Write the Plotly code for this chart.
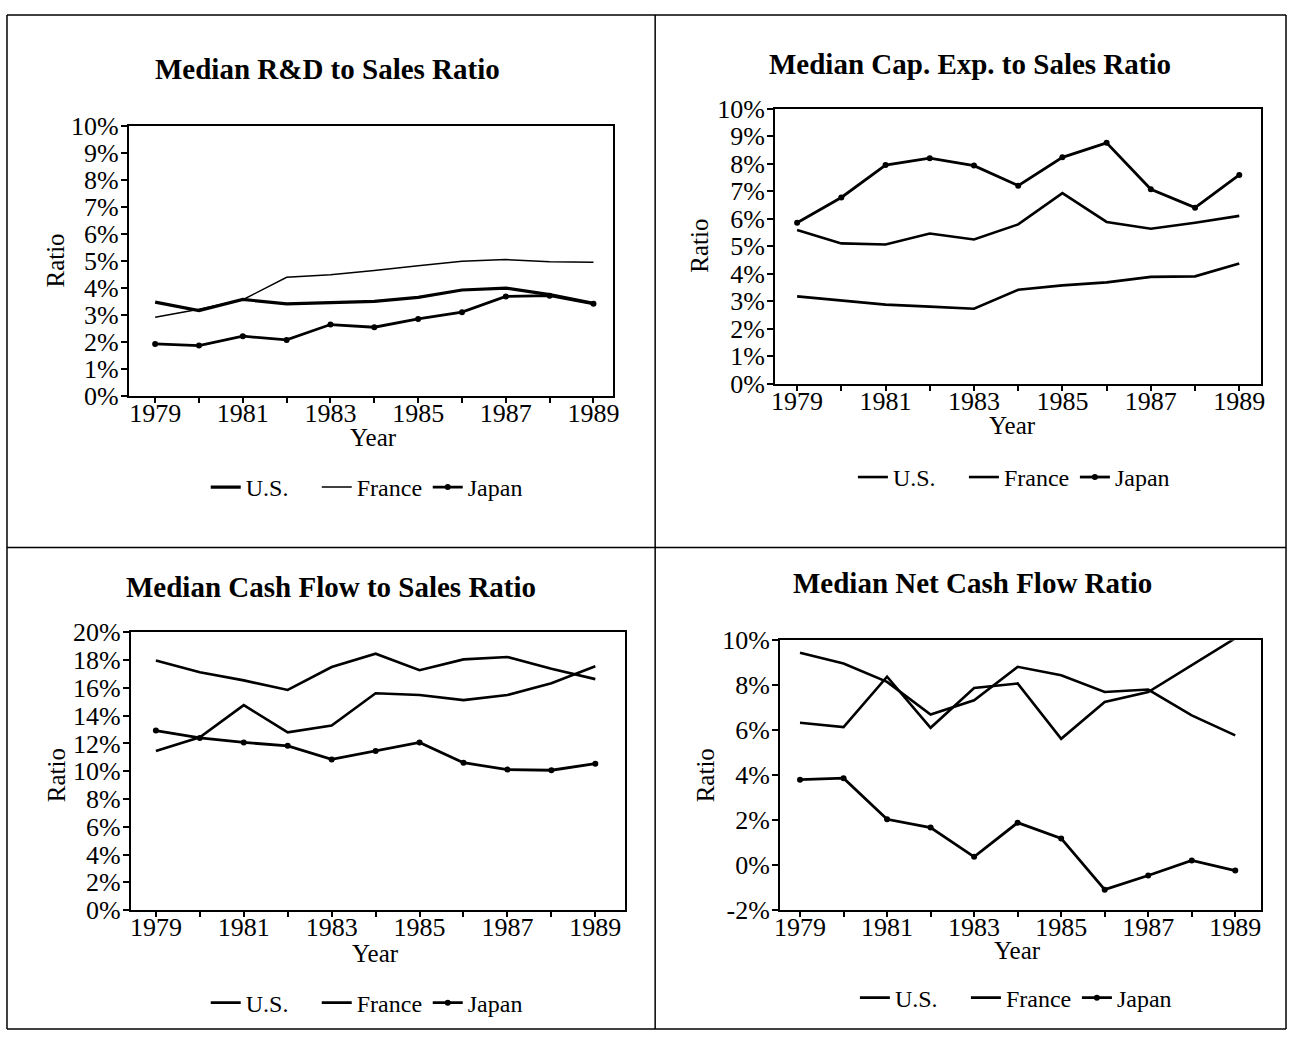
import plotly.graph_objects as go

W, H = 1293, 1045
FONT = "Liberation Serif"

years = list(range(1979, 1990))
year_labels = [str(y) if y % 2 == 1 else "" for y in years]

# Median R&D to sales ratio (%)
rd_us = [3.46, 3.15, 3.56, 3.40, 3.44, 3.49, 3.64, 3.91, 3.98, 3.74, 3.42]
rd_france = [2.90, 3.20, 3.55, 4.38, 4.48, 4.63, 4.81, 4.98, 5.04, 4.96, 4.94]
rd_japan = [1.91, 1.85, 2.20, 2.06, 2.63, 2.53, 2.84, 3.09, 3.67, 3.70, 3.40]

# Median capital expenditure to sales ratio (%)
capex_us = [3.17, 3.02, 2.87, 2.80, 2.72, 3.41, 3.57, 3.68, 3.88, 3.90, 4.37]
capex_france = [5.59, 5.10, 5.06, 5.46, 5.24, 5.79, 6.93, 5.88, 5.63, 5.85, 6.10]
capex_japan = [5.85, 6.77, 7.95, 8.20, 7.93, 7.20, 8.23, 8.76, 7.07, 6.40, 7.59]

# Median cash flow to sales ratio (%)
cash_us = [17.98, 17.12, 16.54, 15.85, 17.50, 18.46, 17.27, 18.05, 18.22, 17.37, 16.63]
cash_france = [11.46, 12.44, 14.76, 12.80, 13.29, 15.61, 15.49, 15.12, 15.49, 16.34, 17.56]
cash_japan = [12.93, 12.40, 12.07, 11.83, 10.85, 11.46, 12.07, 10.61, 10.12, 10.07, 10.54]

# Median net cash flow ratio (%)
net_us = [9.45, 8.97, 8.15, 6.70, 7.33, 8.82, 8.45, 7.70, 7.81, 6.66, 5.77]
net_france = [6.33, 6.14, 8.38, 6.11, 7.88, 8.08, 5.62, 7.26, 7.70, 8.90, 10.09]
net_japan = [3.80, 3.87, 2.04, 1.67, 0.37, 1.89, 1.19, -1.09, -0.46, 0.21, -0.24]

titles = [
    "Median R&D to Sales Ratio",
    "Median Cap. Exp. to Sales Ratio",
    "Median Cash Flow to Sales Ratio",
    "Median Net Cash Flow Ratio",
]
series = [
    (rd_us, rd_france, rd_japan),
    (capex_us, capex_france, capex_japan),
    (cash_us, cash_france, cash_japan),
    (net_us, net_france, net_japan),
]
y_ticks = [
    list(range(0, 11)),
    list(range(0, 11)),
    list(range(0, 21, 2)),
    list(range(-2, 11, 2)),
]

# target positions (pixels of the reference picture): plot box
# (x0, x1, ytop, ybottom), x range, title / axis-title centres, legend start
panels = [
    dict(box=(128, 613, 125, 395), xr=[1978.4, 1989.45], title=(327, 68),
         year=(373, 437), ratio=(55, 260), legend=(205, 487)),
    dict(box=(775, 1262, 108, 383), xr=[1978.5, 1989.5], title=(970, 63),
         year=(1013, 425), ratio=(700, 245), legend=(853, 477)),
    dict(box=(130, 625, 632, 910), xr=[1978.43, 1989.68], title=(330, 587),
         year=(375, 953), ratio=(55, 775), legend=(205, 1003)),
    dict(box=(780, 1262, 640, 910), xr=[1978.54, 1989.6], title=(973, 583),
         year=(1018, 950), ratio=(705, 775), legend=(855, 998)),
]

# the photographed page comes out slightly shrunk and shifted; undo that
SX, OX = 0.992, 5.0
SY, OY = 0.973, 13.2


def px_x(v):
    page = min(max((v - OX) / SX, 1), W - 1)
    return page / W


def px_y(v):
    page = min(max((v - OY) / SY, 1), H - 1)
    return 1 - page / H


def add_text(fig, xy, text, size, angle=0):
    fig.add_annotation(
        x=px_x(xy[0]), y=px_y(xy[1]), xref="paper", yref="paper", text=text,
        showarrow=False, xanchor="center", yanchor="middle", textangle=angle,
        font=dict(family=FONT, size=size, color="black"),
    )


fig = go.Figure()

for i, p in enumerate(panels):
    n = "" if i == 0 else str(i + 1)
    us, fr, jp = series[i]
    leg = "legend" if i == 0 else f"legend{i + 1}"
    us_width = 3.2 if i == 0 else 2.6
    fr_width = 1.5 if i == 0 else 2.6
    fig.add_trace(go.Scatter(x=years, y=us, name="U.S.", mode="lines",
                             line=dict(color="black", width=us_width),
                             xaxis="x" + n, yaxis="y" + n, legend=leg))
    fig.add_trace(go.Scatter(x=years, y=fr, name="France", mode="lines",
                             line=dict(color="black", width=fr_width),
                             xaxis="x" + n, yaxis="y" + n, legend=leg))
    fig.add_trace(go.Scatter(x=years, y=jp, name="Japan", mode="lines+markers",
                             line=dict(color="black", width=2.8),
                             marker=dict(color="black", size=6),
                             xaxis="x" + n, yaxis="y" + n, legend=leg))

    x0, x1, yt, yb = p["box"]
    yt_vals = y_ticks[i]
    fig.update_layout({
        "xaxis" + n: dict(
            domain=[px_x(x0), px_x(x1)], range=p["xr"], anchor="y" + n,
            tickvals=years, ticktext=year_labels, ticks="outside", ticklen=5,
            tickwidth=1.5, tickcolor="black", showline=True, linecolor="black",
            linewidth=2, mirror=True, showgrid=False, zeroline=False,
            ticklabelstandoff=-12,
            tickfont=dict(family=FONT, size=26, color="black"),
        ),
        "yaxis" + n: dict(
            domain=[px_y(yb), px_y(yt)], range=[yt_vals[0], yt_vals[-1]],
            anchor="x" + n, tickvals=yt_vals,
            ticktext=[f"{v}%" for v in yt_vals],
            ticks="outside", ticklen=6, tickwidth=1.5, tickcolor="black",
            showline=True, linecolor="black", linewidth=2, mirror=True,
            showgrid=False, zeroline=False, ticklabelstandoff=-3,
            tickfont=dict(family=FONT, size=26, color="black"),
        ),
        leg: dict(
            orientation="h", x=px_x(p["legend"][0]), y=px_y(p["legend"][1]),
            xanchor="left", yanchor="middle", bgcolor="rgba(0,0,0,0)",
            font=dict(family=FONT, size=24, color="black"),
            itemwidth=30, entrywidth=66, entrywidthmode="pixels",
            tracegroupgap=0,
        ),
    })
    add_text(fig, p["title"], f"<b>{titles[i]}</b>", 29)
    add_text(fig, p["year"], "Year", 25)
    add_text(fig, p["ratio"], "Ratio", 25, angle=-90)

# frame lines around the four panels
frame = dict(color="black", width=1.5)
for (ax0, ay0, ax1, ay1) in [
    (3, 9, 1290, 9), (3, 9, 3, 1039), (3, 1039, 1290, 1039), (1290, 9, 1290, 1039),
    (655, 9, 655, 1039), (3, 547, 1290, 547),
]:
    fig.add_shape(type="line", xref="paper", yref="paper",
                  x0=px_x(ax0), y0=px_y(ay0), x1=px_x(ax1), y1=px_y(ay1), line=frame)

fig.update_layout(
    width=W, height=H, autosize=False,
    margin=dict(l=0, r=0, t=0, b=0),
    paper_bgcolor="white", plot_bgcolor="white",
    font=dict(family=FONT, color="black"),
    showlegend=True,
)

# drop the default 8px page margin so the figure sits flush in the window
fig.write_html(
    "out.html",
    config={"displayModeBar": False},
    post_script="document.body.style.margin='0';"
                "document.documentElement.style.overflow='hidden';",
)
